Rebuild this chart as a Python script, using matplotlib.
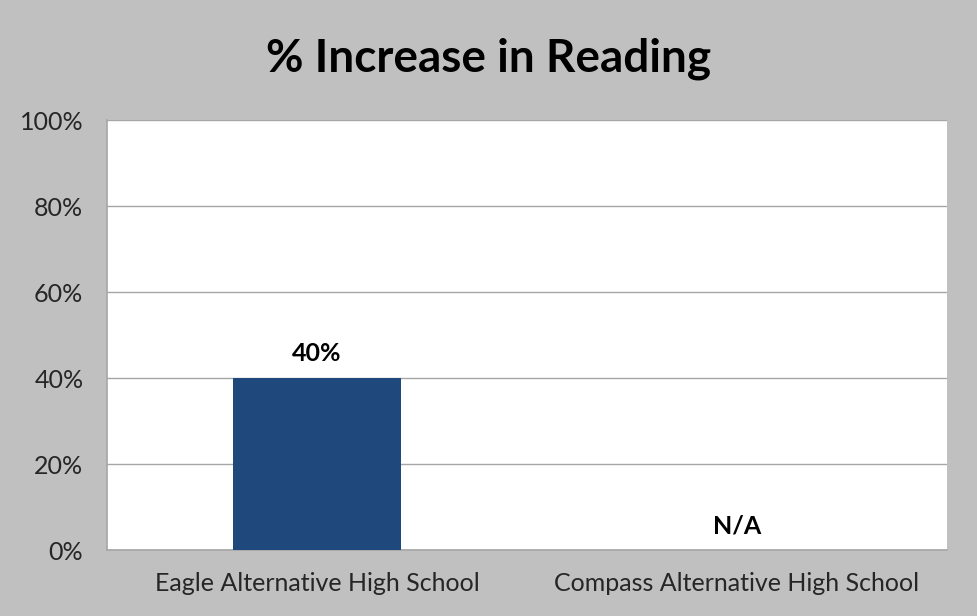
import matplotlib.pyplot as plt
from matplotlib.ticker import PercentFormatter

# Datos del gráfico
schools = ['Eagle Alternative High School', 'Compass Alternative High School']
increase = [40, 0]
bar_labels = ['40%', 'N/A']
yticks = [0, 20, 40, 60, 80, 100]

plt.rcParams['font.family'] = ['Lato', 'DejaVu Sans']

fig = plt.figure(figsize=(9.77, 6.16), dpi=100)
fig.patch.set_facecolor('#c0c0c0')
ax = fig.add_axes([0.1095, 0.107, 0.8595, 0.698])
ax.set_facecolor('white')

x = range(len(schools))
bars = ax.bar(x, increase, width=0.4, color='#1f497d', zorder=3)

# Etiquetas de datos
for xi, val, lab in zip(x, increase, bar_labels):
    ax.text(xi, val + 3, lab, ha='center', va='bottom', fontsize=18,
            fontweight='bold', color='black')

ax.set_xlim(-0.5, len(schools) - 0.5)
ax.set_ylim(0, 100)
ax.set_yticks(yticks)
ax.yaxis.set_major_formatter(PercentFormatter(decimals=0))
ax.set_xticks(list(x))
ax.set_xticklabels(schools)
ax.tick_params(axis='both', length=0, labelsize=18, colors='#262626')
ax.tick_params(axis='y', pad=17)
ax.tick_params(axis='x', pad=16)
ax.grid(axis='y', color='#a6a6a6', linewidth=1, zorder=0)

for side in ['top', 'right']:
    ax.spines[side].set_visible(False)
for side in ['left', 'bottom']:
    ax.spines[side].set_color('#a6a6a6')
    ax.spines[side].set_linewidth(1.2)

fig.text(0.5, 0.905, '% Increase in Reading', ha='center', va='center',
         fontsize=33, fontweight='bold', color='black')

fig.savefig('out.png', dpi=100, facecolor=fig.get_facecolor())
